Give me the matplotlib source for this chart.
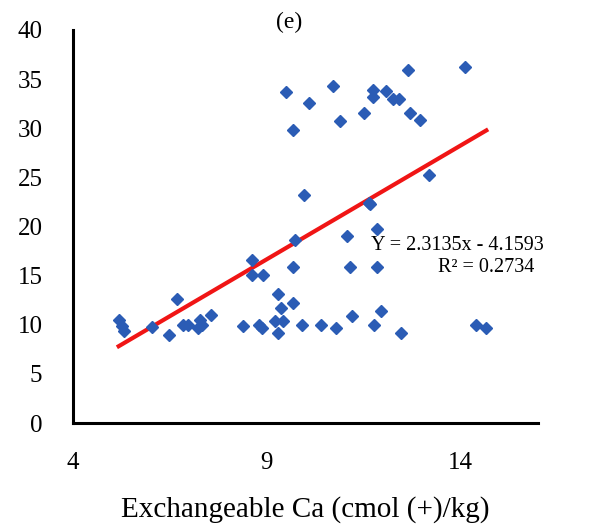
import numpy as np
import matplotlib
matplotlib.use('Agg')
import matplotlib.pyplot as plt

# exchangeable Ca (cmol(+)/kg) and the response values
ca = [5.18, 5.26, 5.33, 6.05, 6.69, 6.49, 6.85, 6.97, 7.28, 7.23, 7.33, 7.56,
      8.38, 8.62, 8.62, 8.90, 8.79, 8.87, 9.21, 9.41, 9.28, 9.28, 9.36, 9.67,
      9.67, 9.74, 9.90, 9.97, 10.41, 10.79, 11.08, 11.15, 11.21, 11.67, 11.64,
      11.77, 11.85, 11.85, 11.95, 12.46, 13.18, 14.41, 14.67,
      9.49, 10.08, 10.72, 9.67, 10.90, 11.51, 11.74, 11.74, 12.64, 14.13,
      12.08, 12.26, 12.41, 12.69, 12.95]
resp = [10.5, 9.9, 9.4, 9.8, 12.6, 9.0, 10.0, 10.0, 10.5, 9.7, 10.0, 11.0,
        9.9, 16.6, 15.05, 15.05, 10.0, 9.7, 10.4, 10.4, 13.1, 9.2, 11.7, 12.2,
        15.9, 18.6, 10.0, 23.2, 10.0, 9.7, 19.0, 15.9, 10.9, 22.3, 22.4,
        10.0, 15.9, 19.8, 11.4, 9.2, 25.2, 10.0, 9.7,
        33.7, 32.6, 34.3, 29.8, 30.7, 31.5, 33.9, 33.2, 35.9, 36.2,
        33.8, 33.0, 33.0, 31.5, 30.8]

# trend line as printed on the chart
slope = 2.3135
intercept = -4.1593

plt.rcParams['font.family'] = ['Liberation Serif', 'DejaVu Serif']

fig = plt.figure(figsize=(6.03, 5.25), dpi=100)
ax = fig.add_axes([0.121, 0.194, 0.771, 0.749])

ax.plot(ca, resp, linestyle='none', marker='D', markersize=6,
        color='#2B5CB5', zorder=3)

xs = np.array([min(ca), max(ca)])
ax.plot(xs, slope * xs + intercept, color='#F01515', linewidth=3, zorder=2)

ax.text(11.7, 18.1, 'Y = 2.3135x - 4.1593', fontsize=14.5, va='center', ha='left')
ax.text(15.9, 15.8, 'R² = 0.2734', fontsize=14.5, va='center', ha='right')
ax.text(9.59, 40.8, '(e)', fontsize=17, ha='center', va='center')

ax.set_xlim(4, 16)
ax.set_ylim(0, 40)
ax.set_xticks([4, 9, 14])
ax.set_yticks(np.arange(0, 41, 5))
ax.tick_params(length=0, labelsize=18)
ax.tick_params(axis='x', pad=21)
ax.tick_params(axis='y', pad=22)

for side in ['top', 'right']:
    ax.spines[side].set_visible(False)
for side in ['left', 'bottom']:
    ax.spines[side].set_linewidth(2.2)

ax.set_xlabel('Exchangeable Ca (cmol (+)/kg)', fontsize=21, labelpad=16)

fig.savefig('out.png', dpi=100)
